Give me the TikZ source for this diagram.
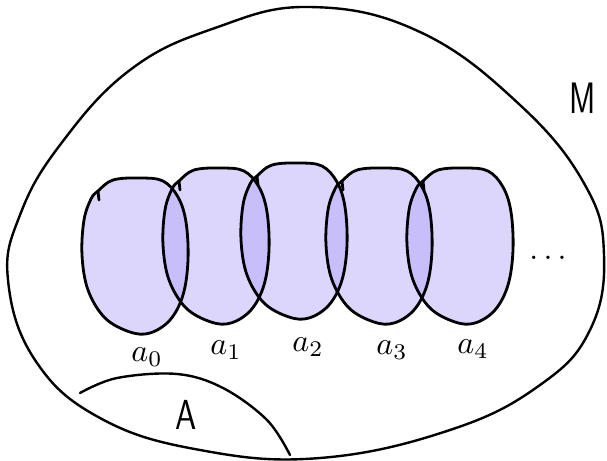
\documentclass[tikz,border=0pt]{standalone}
\usepackage{tikz}
\definecolor{lav}{RGB}{167,153,247}
\tikzset{
  ink/.style={line width=2.8pt, line cap=round, line join=round, black},
  blobfill/.style={fill=lav, fill opacity=0.4, draw=none},
  lbl/.style={inner sep=0pt},
  biglbl/.style={inner sep=0pt, font=\sffamily\fontsize{40}{44}\selectfont}
}
\newcommand{\lab}[1]{\scalebox{3.2}{$#1$}}
\newcommand{\blobpath}{plot[smooth cycle, tension=0.6] coordinates {(-37,-64) (-22,-75) (5,-77) (28,-74) (43,-58) (51,-33) (53,5) (48,40) (35,65) (15,78) (-5,77) (-30,63) (-47,35) (-53,0) (-51,-35) (-44,-56)}}
\begin{document}
\begin{tikzpicture}[x=1pt,y=-1pt]
\useasboundingbox (0,0) rectangle (607,460);
% big region M
\draw[ink, line width=2.4pt] plot[smooth cycle, tension=0.7] coordinates {(310,7) (420,32) (520,105) (585,185) (604,255) (590,330) (540,385) (450,430) (320,458) (200,450) (100,418) (35,360) (8,280) (20,215) (60,145) (130,70) (215,28)};
% region A
\draw[ink, line width=2.4pt] plot[smooth, tension=0.6] coordinates {(80,393) (117,378) (177,374) (223,388) (267,420) (290,455)};
% fills
\foreach \cx/\cy in {135/255, 216/245, 294/240, 379/245, 460/245}{
  \begin{scope}[shift={(\cx,\cy)}]
    \path[blobfill] \blobpath;
  \end{scope}
}
% outlines
\foreach \cx/\cy in {135/255, 216/245, 294/240, 379/245, 460/245}{
  \begin{scope}[shift={(\cx,\cy)}]
    \draw[ink] \blobpath;
    \draw[ink] (-37,-64) -- (-36,-55);
  \end{scope}
}
% labels
\node[lbl] (a0) at (147,357) {\lab{a_0}};
\node[lbl] (a1) at (226,350) {\lab{a_1}};
\node[lbl] (a2) at (308,347) {\lab{a_2}};
\node[lbl] (a3) at (392,350) {\lab{a_3}};
\node[lbl] (a4) at (473,349) {\lab{a_4}};
\node[lbl] (dots) at (548,258) {\lab{\ldots}};
\node[biglbl] (M) at (583,98) {\scalebox{0.8}[1.1]{M}};
\node[biglbl] (A) at (186,415) {\scalebox{0.85}[1.05]{A}};
\end{tikzpicture}
\end{document}
